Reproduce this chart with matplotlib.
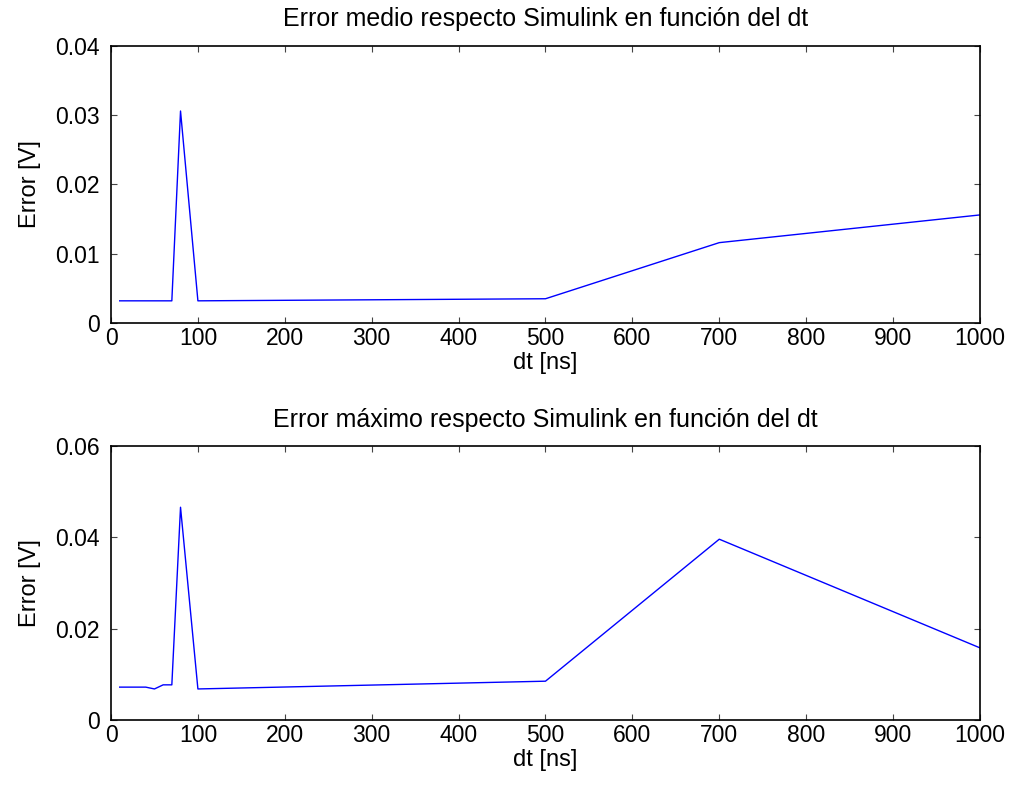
import matplotlib.pyplot as plt

plt.rcParams['font.family'] = ['Liberation Sans', 'DejaVu Sans']

# datos
dt = [10, 20, 30, 40, 50, 60, 70, 80, 100, 500, 700, 1000]
err_medio = [0.0032, 0.0032, 0.0032, 0.0032, 0.0032, 0.0032, 0.0032, 0.0306, 0.0032, 0.0035, 0.0116, 0.0156]
err_max = [0.0072, 0.0072, 0.0072, 0.0072, 0.0068, 0.0077, 0.0077, 0.0466, 0.0068, 0.0085, 0.0396, 0.0158]

xticks = [0, 100, 200, 300, 400, 500, 600, 700, 800, 900, 1000]

fig = plt.figure(figsize=(10.11, 7.94), dpi=100)
ax1 = fig.add_axes([0.1098, 0.5932, 0.8595, 0.349])
ax2 = fig.add_axes([0.1098, 0.0932, 0.8595, 0.345])


def estilo(ax, y, ylim, yticks, titulo):
    ax.plot(dt, y, color='blue', linewidth=1)
    ax.set_xlim(0, 1000)
    ax.set_ylim(*ylim)
    ax.set_xticks(xticks)
    ax.set_yticks(yticks)
    ax.set_yticklabels([('%g' % v) for v in yticks])
    ax.tick_params(direction='in', top=True, right=True, labelsize=16.5,
                   length=4, width=0.8, color='#444444')
    ax.tick_params(axis='y', pad=8)
    ax.tick_params(axis='x', pad=3)
    for s in ax.spines.values():
        s.set_linewidth(1.2)
    ax.set_xlabel('dt [ns]', fontsize=17, labelpad=1)
    ax.set_ylabel('Error [V]', fontsize=17, labelpad=10)
    ax.set_title(titulo, fontsize=18, pad=14)


estilo(ax1, err_medio, (0, 0.04), [0, 0.01, 0.02, 0.03, 0.04],
       'Error medio respecto Simulink en función del dt')
estilo(ax2, err_max, (0, 0.06), [0, 0.02, 0.04, 0.06],
       'Error máximo respecto Simulink en función del dt')

fig.savefig('out.png', dpi=100)
